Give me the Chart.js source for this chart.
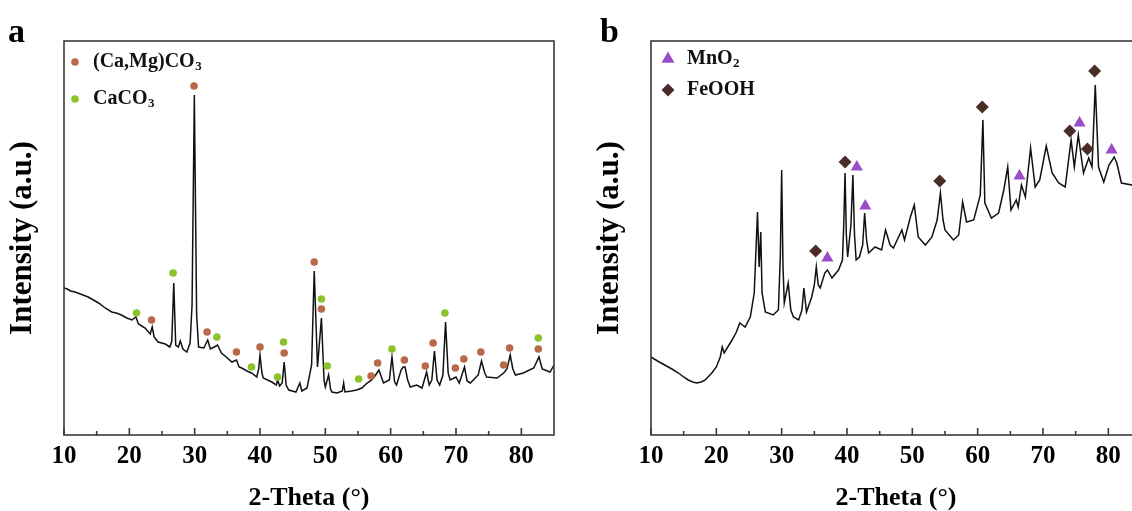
<!DOCTYPE html>
<html>
<head>
<meta charset="utf-8">
<script src="https://cdn.jsdelivr.net/npm/chart.js@4.4.1/dist/chart.umd.min.js"></script>
<style>
  html, body { margin: 0; padding: 0; background: #fff; overflow: hidden; width: 1132px; height: 511px; }
  canvas { position: absolute; top: 0; }
  #chartA { left: 0; }
  #chartB { left: 587px; }
</style>
</head>
<body>
<canvas id="chartA" width="587" height="511"></canvas>
<canvas id="chartB" width="566" height="511"></canvas>
<script>
/* ---------- data: panel a (dolomite / calcite sample) ---------- */
const thetaA = [10.0, 10.5, 11.0, 11.7, 12.5, 13.7, 14.5, 15.3, 16.3, 17.3, 18.0, 18.8, 19.6, 20.4, 21.0, 21.4, 22.4, 23.2, 23.5, 23.8,
  24.4, 25.5, 26.2, 26.5, 26.8, 27.1, 27.5, 27.8, 28.2, 28.8, 29.3, 29.6, 29.95, 30.3, 30.6, 31.4, 32.0, 32.4, 33.0, 33.5,
  34.1, 35.0, 35.7, 36.4, 36.8, 37.2, 38.0, 38.7, 39.5, 39.8, 40.0, 40.3, 40.5, 41.8, 42.5, 42.7, 43.0, 43.4, 43.7, 44.0,
  44.4, 45.5, 46.1, 46.4, 47.2, 47.9, 48.3, 48.8, 49.4, 49.8, 50.0, 50.5, 50.8, 51.0, 51.8, 52.6, 52.8, 53.0, 54.0, 54.8,
  55.6, 56.4, 57.1, 57.5, 58.2, 58.9, 59.8, 60.2, 60.6, 60.9, 61.6, 61.9, 62.2, 62.6, 63.0, 64.0, 64.8, 65.5, 65.9, 66.3,
  66.7, 67.1, 67.5, 68.0, 68.4, 68.8, 69.1, 70.0, 70.5, 71.3, 71.7, 72.2, 73.4, 73.9, 74.4, 74.7, 76.3, 77.3, 77.8, 78.3,
  78.7, 79.1, 80.3, 81.9, 82.7, 83.2, 84.4, 85.0];
const intensityA = [147, 146, 144, 143, 141, 138, 135, 132, 127, 123, 122, 120, 117, 115, 118, 111, 107, 101, 108, 98,
  93, 91, 88, 94, 152, 90, 88, 94, 86, 83, 92, 130, 340, 120, 88, 87, 95, 86, 88, 90,
  82, 77, 73, 75, 68, 67, 64, 62, 58, 66, 80, 62, 57, 53, 50, 55, 49, 52, 73, 50,
  45, 43, 52, 44, 47, 70, 164, 68, 117, 55, 48, 60, 46, 43, 42, 44, 52, 43, 44, 45,
  47, 52, 55, 58, 65, 52, 55, 78, 53, 50, 65, 68, 68, 55, 48, 50, 47, 63, 50, 55,
  84, 55, 50, 60, 113, 62, 55, 58, 52, 68, 54, 52, 60, 74, 62, 58, 57, 62, 66, 80,
  66, 60, 62, 67, 78, 66, 63, 70];

const dolomiteTheta = [23.4, 29.9, 31.9, 36.4, 40.0, 43.7, 48.3, 49.4, 57.0, 58.0, 62.1, 65.3, 66.5, 69.9, 71.2, 73.8, 77.3, 78.2, 82.6];
const dolomiteMark  = [115, 349, 103, 83, 88, 82, 173, 126, 59, 72, 75, 69, 92, 67, 76, 83, 70, 87, 86];
const calciteTheta  = [21.1, 26.7, 33.4, 38.7, 42.7, 43.6, 49.4, 50.3, 55.1, 60.2, 68.3, 82.6];
const calciteMark   = [122, 162, 98, 68, 58, 93, 136, 69, 56, 86, 122, 97];

/* ---------- data: panel b (Mn / Fe sample) ---------- */
const thetaB = [10.0, 11.0, 12.1, 13.2, 14.2, 15.0, 15.7, 16.4, 17.0, 17.7, 18.3, 19.3, 20.0, 20.6, 20.9, 21.2, 22.4, 23.0, 23.6, 24.0,
  24.4, 25.2, 25.8, 26.1, 26.3, 26.55, 26.8, 27.0, 27.5, 28.7, 29.5, 29.8, 30.0, 30.2, 30.4, 31.0, 31.4, 31.8, 32.6, 33.1,
  33.4, 33.8, 34.6, 35.0, 35.3, 35.6, 35.9, 36.6, 37.0, 37.7, 38.7, 39.3, 39.5, 39.7, 39.9, 40.1, 40.6, 40.9, 41.15, 41.4,
  41.9, 42.4, 42.7, 43.0, 43.3, 44.3, 45.3, 45.9, 46.6, 47.1, 48.4, 48.8, 49.7, 50.3, 50.9, 52.0, 53.0, 53.8, 54.3, 54.7,
  55.0, 56.3, 57.1, 57.7, 58.3, 59.4, 60.4, 60.8, 61.1, 62.1, 63.2, 64.0, 64.6, 65.1, 65.9, 66.2, 66.7, 67.3, 68.1, 68.8,
  69.5, 70.5, 71.4, 72.4, 73.4, 74.3, 74.8, 75.4, 76.2, 77.0, 77.5, 78.0, 78.5, 79.3, 80.1, 80.9, 81.3, 82.0, 83.6, 85.0];
const intensityB = [78, 74, 70, 66, 62, 58, 55, 53, 52, 53, 55, 62, 68, 78, 88, 82, 95, 102, 112, 110,
  108, 118, 142, 190, 223, 168, 203, 142, 123, 120, 125, 180, 265, 170, 132, 152, 125, 118, 115, 125,
  147, 123, 138, 150, 168, 150, 147, 162, 165, 157, 165, 175, 210, 262, 200, 178, 210, 260, 200, 175,
  178, 190, 222, 195, 182, 188, 185, 205, 190, 187, 205, 195, 218, 230, 198, 190, 198, 215, 242, 215,
  205, 195, 200, 233, 213, 215, 240, 315, 232, 217, 222, 245, 268, 225, 235, 228, 250, 238, 287, 248,
  255, 289, 262, 252, 248, 295, 268, 300, 262, 277, 268, 350, 268, 253, 270, 278, 272, 252, 250, 245];

const mnTheta   = [37.0, 41.5, 42.8, 66.4, 75.6, 80.5];
const mnMark    = [177, 268, 229, 259, 312, 285];
const feTheta   = [35.2, 39.7, 54.2, 60.7, 74.1, 76.8, 77.9];
const feMark    = [184, 273, 254, 328, 304, 286, 364];

const xTicks = [10, 20, 30, 40, 50, 60, 70, 80];

const SERIF = '"Liberation Serif", "Times New Roman", "DejaVu Serif", serif';

function points(xs, ys) {
  return xs.map((x, i) => ({ x, y: ys[i] }));
}

function drawMarker(ctx, style, r, x, y, color) {
  ctx.save();
  ctx.fillStyle = color;
  ctx.strokeStyle = color;
  if (Chart.helpers && Chart.helpers.drawPoint) {
    Chart.helpers.drawPoint(ctx, { pointStyle: style, radius: r, rotation: 0, borderWidth: 0 }, x, y);
  } else {
    ctx.beginPath(); ctx.arc(x, y, r, 0, Math.PI * 2); ctx.fill();
  }
  ctx.restore();
}

// box, inward ticks, phase legend and panel letter
const panelDecor = {
  id: 'panelDecor',
  afterDatasetsDraw(chart, args, opts) {
    const { ctx, chartArea: a, scales: { x } } = chart;
    ctx.save();
    ctx.strokeStyle = '#3a3a3a';
    ctx.lineWidth = 1.6;
    ctx.strokeRect(a.left, a.top, a.right - a.left, a.bottom - a.top);
    ctx.beginPath();
    xTicks.forEach(v => {
      const px = x.getPixelForValue(v);
      ctx.moveTo(px, a.bottom); ctx.lineTo(px, a.bottom - 7);
      const pm = x.getPixelForValue(v + 5);
      if (v + 5 < x.max) { ctx.moveTo(pm, a.bottom); ctx.lineTo(pm, a.bottom - 4); }
    });
    ctx.stroke();

    // legend
    const sets = chart.data.datasets.filter(d => d.phase);
    sets.forEach((d, i) => {
      const y = a.top + opts.legendTop + i * opts.legendGap;
      drawMarker(ctx, d.pointStyle, d.legendRadius, a.left + opts.markerX, y, d.backgroundColor);
      const m = d.label.match(/^(.*?)(\d*)$/);
      ctx.fillStyle = '#111';
      ctx.textBaseline = 'middle';
      ctx.font = 'bold 20px ' + SERIF;
      ctx.fillText(m[1], a.left + opts.textX, y);
      if (m[2]) {
        const w = ctx.measureText(m[1]).width;
        ctx.font = 'bold 13px ' + SERIF;
        ctx.fillText(m[2], a.left + opts.textX + w + 0.5, y + 5);
      }
    });

    ctx.fillStyle = '#000';
    ctx.textBaseline = 'alphabetic';
    ctx.font = 'bold 34px ' + SERIF;
    ctx.fillText(opts.letter, opts.letterX, 42);
    ctx.restore();
  }
};

function makeChart(id, lineData, markerSets, decor, rightPad) {
  return new Chart(document.getElementById(id), {
    type: 'scatter',
    data: {
      datasets: [
        ...markerSets.map(m => ({
          label: m.label, phase: true, data: m.data,
          pointStyle: m.style, pointRadius: m.radius, legendRadius: m.legendRadius,
          backgroundColor: m.color, borderWidth: 0, order: 0
        })),
        { label: 'pattern', data: lineData, showLine: true, borderColor: '#111', borderWidth: 1.5,
          pointRadius: 0, tension: 0, order: 1 }
      ]
    },
    options: {
      responsive: false,
      animation: false,
      layout: { padding: { top: 41, right: rightPad, left: 0, bottom: 0 } },
      plugins: { legend: { display: false }, tooltip: { enabled: false }, panelDecor: decor },
      scales: {
        x: {
          type: 'linear', min: 10, max: 85,
          afterFit: s => { s.height = 76; },
          grid: { display: false, drawTicks: false }, border: { display: false },
          ticks: { stepSize: 10, includeBounds: false, padding: 7, color: '#000',
                   font: { family: SERIF, size: 25, weight: 'bold' } },
          title: { display: true, text: '2-Theta (°)', color: '#000', padding: { top: 0, bottom: 0 },
                   font: { family: SERIF, size: 26, weight: 'bold', lineHeight: 1 } }
        },
        y: {
          min: 0, max: 394,
          afterFit: s => { s.width = 64; },
          grid: { display: false, drawTicks: false }, border: { display: false },
          ticks: { display: false },
          title: { display: true, text: 'Intensity (a.u.)', color: '#000', padding: { top: 7, bottom: 0 },
                   font: { family: SERIF, size: 31, weight: 'bold', lineHeight: 1 } }
        }
      }
    },
    plugins: [panelDecor]
  });
}

makeChart('chartA', points(thetaA, intensityA), [
  { label: '(Ca,Mg)CO3', data: points(dolomiteTheta, dolomiteMark), style: 'circle', radius: 3.8, legendRadius: 3.8, color: '#b9694b' },
  { label: 'CaCO3', data: points(calciteTheta, calciteMark), style: 'circle', radius: 3.8, legendRadius: 3.8, color: '#8cc32d' }
], { letter: 'a', letterX: 8, markerX: 11, textX: 29, legendTop: 21, legendGap: 37 }, 33);

makeChart('chartB', points(thetaB, intensityB), [
  { label: 'MnO2', data: points(mnTheta, mnMark), style: 'triangle', radius: 7, legendRadius: 7.5, color: '#9a4dc8' },
  { label: 'FeOOH', data: points(feTheta, feMark), style: 'rectRot', radius: 6.5, legendRadius: 6.5, color: '#4b2d28' }
], { letter: 'b', letterX: 13, markerX: 17, textX: 36, legendTop: 18, legendGap: 31 }, 12);
</script>
</body>
</html>
